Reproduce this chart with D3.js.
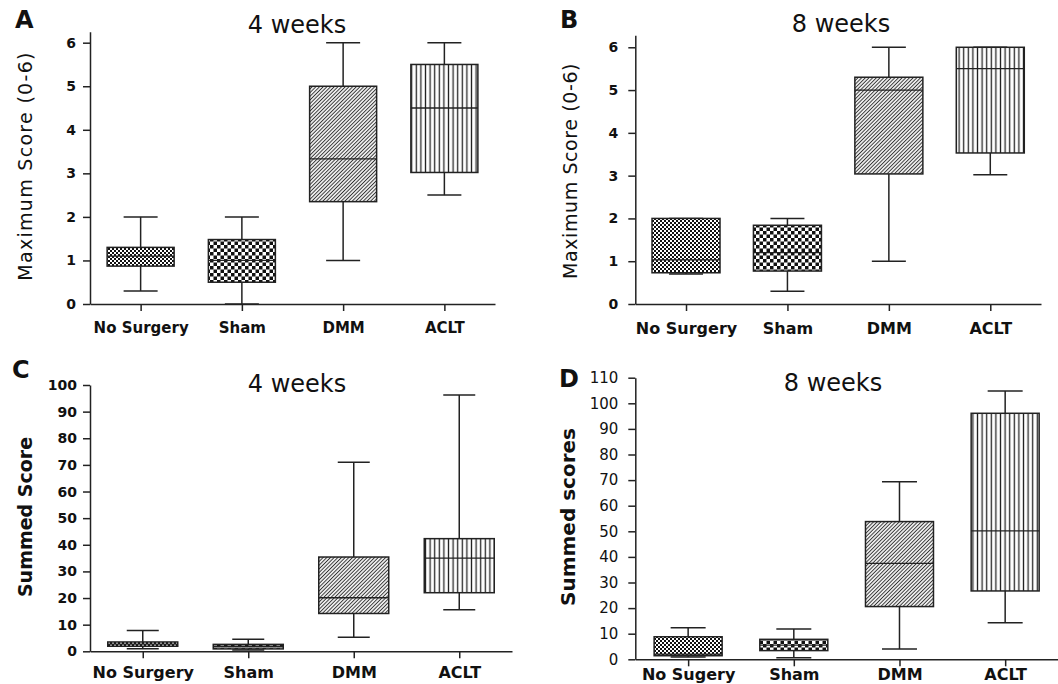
<!DOCTYPE html>
<html><head><meta charset="utf-8">
<script src="https://cdn.jsdelivr.net/npm/d3@7"></script>
<style>body{margin:0;background:#fff}svg{display:block}</style></head>
<body>
<svg id="c" width="1058" height="684"></svg>
<script>
// ---------- DATA ----------
const categories = ["No Surgery", "Sham", "DMM", "ACLT"];
const categoriesD = ["No Sugery", "Sham", "DMM", "ACLT"];
const ticksMax = [0, 1, 2, 3, 4, 5, 6];
const ticksC = [0, 10, 20, 30, 40, 50, 60, 70, 80, 90, 100];
const ticksD = [0, 10, 20, 30, 40, 50, 60, 70, 80, 90, 100, 110];
const titles = ["4 weeks", "8 weeks", "4 weeks", "8 weeks"];
const panelLetters = ["A", "B", "C", "D"];
const yLabels = ["Maximum Score (0-6)", "Maximum Score (0-6)", "Summed Score", "Summed scores"];
// each row: [min, q1, median, q3, max]
const statsA = [[0.3, 0.87, 1.1, 1.3, 2], [0, 0.5, 1.0, 1.48, 2], [1, 2.35, 3.33, 5, 6], [2.5, 3.02, 4.5, 5.5, 6]];
const statsB = [[0.7, 0.73, 1.03, 2, 2], [0.3, 0.77, 1.2, 1.84, 2], [1, 3.04, 5, 5.3, 6], [3.02, 3.53, 5.5, 6, 6]];
const statsC = [[1, 1.9, 2.7, 3.5, 7.8], [0.5, 0.9, 1.9, 2.6, 4.5], [5.3, 14.2, 20.1, 35.4, 71], [15.6, 22, 35, 42.3, 96.2]];
const statsD = [[0.9, 1.4, 2, 8.8, 12.3], [0.6, 3.4, 5.5, 7.8, 11.8], [4, 20.6, 37.5, 53.8, 69.4], [14.3, 26.7, 50.2, 96.1, 104.8]];

// ---------- PATTERNS ----------
const svg = d3.select("#c");
const defs = svg.append("defs");
const INK = "#222";
function checker(id, s) {
  const p = defs.append("pattern").attr("id", id).attr("patternUnits", "userSpaceOnUse")
    .attr("width", 2 * s).attr("height", 2 * s);
  p.append("rect").attr("width", 2 * s).attr("height", 2 * s).attr("fill", "#fff");
  p.append("rect").attr("width", s).attr("height", s).attr("fill", "#111");
  p.append("rect").attr("x", s).attr("y", s).attr("width", s).attr("height", s).attr("fill", "#111");
}
checker("fine", 2);
checker("coarse", 3.5);
{
  const p = defs.append("pattern").attr("id", "diag").attr("patternUnits", "userSpaceOnUse")
    .attr("width", 2.6).attr("height", 10).attr("patternTransform", "rotate(45)");
  p.append("rect").attr("width", 2.6).attr("height", 10).attr("fill", "#fff");
  p.append("line").attr("x1", 1.3).attr("x2", 1.3).attr("y1", 0).attr("y2", 10)
    .attr("stroke", "#333").attr("stroke-width", 1.05);
}
{
  const p = defs.append("pattern").attr("id", "vert").attr("patternUnits", "userSpaceOnUse")
    .attr("width", 4.6).attr("height", 10);
  p.append("rect").attr("width", 4.6).attr("height", 10).attr("fill", "#fff");
  p.append("line").attr("x1", 2.3).attr("x2", 2.3).attr("y1", 0).attr("y2", 10)
    .attr("stroke", "#222").attr("stroke-width", 1.3);
}
const fills = ["url(#fine)", "url(#coarse)", "url(#diag)", "url(#vert)"];

// ---------- PANELS (layout) ----------
const panels = [
  { cats: categories, stats: statsA, ticks: ticksMax, yMax: 6.25, x0: 90, x1: 495, y0: 304, yTop: 31.8,
    boxW: 67, capW: 34, tickBold: true, tickSize: 14, tickPad: 7, xlabSize: 15, xlabY: 29,
    title: [297, 33], letter: [15, 28], ylab: [25, 166], ylabBold: false, ylabSize: 19, ylabSpacing: 1.3 },
  { cats: categories, stats: statsB, ticks: ticksMax, yMax: 6.28, x0: 635.3, x1: 1041, y0: 304, yTop: 35.3,
    boxW: 68, capW: 34, tickBold: true, tickSize: 14, tickPad: 10, xlabSize: 16, xlabY: 30,
    title: [841, 32], letter: [560, 28], ylab: [570, 171], ylabBold: false, ylabSize: 19, ylabSpacing: 0.6 },
  { cats: categories, stats: statsC, ticks: ticksC, yMax: 100, x0: 90, x1: 512, y0: 651.3, yTop: 385,
    boxW: 70, capW: 32, tickBold: true, tickSize: 14, tickPad: 6, xlabSize: 16, xlabY: 27,
    title: [297, 392], letter: [12, 378], ylab: [25, 517], ylabBold: true, ylabSize: 19, ylabSpacing: 0 },
  { cats: categoriesD, stats: statsD, ticks: ticksD, yMax: 110, x0: 635.3, x1: 1058, y0: 659.3, yTop: 377.7,
    boxW: 68, capW: 35, tickBold: false, tickSize: 15, tickPad: 10, xlabSize: 16, xlabY: 21,
    title: [833, 391], letter: [559, 387], ylab: [568, 517], ylabBold: true, ylabSize: 20, ylabSpacing: 0 }
];

panels.forEach((P, i) => {
  const g = svg.append("g");
  const x = d3.scalePoint().domain(P.cats).range([P.x0, P.x1]).padding(0.5);
  const y = d3.scaleLinear().domain([0, P.yMax]).range([P.y0, P.yTop]);

  const ya = g.append("g").attr("transform", `translate(${P.x0},0)`)
    .call(d3.axisLeft(y).tickValues(P.ticks).tickFormat(d3.format("d")).tickSize(7).tickSizeOuter(0).tickPadding(P.tickPad));
  const xa = g.append("g").attr("transform", `translate(0,${P.y0})`)
    .call(d3.axisBottom(x).tickSize(7).tickSizeOuter(0));
  [ya, xa].forEach(a => {
    a.select(".domain").attr("stroke", INK).attr("stroke-width", 1.5);
    a.selectAll(".tick line").attr("stroke", INK).attr("stroke-width", 1.5);
  });
  ya.selectAll(".tick text").attr("fill", "#111").style("font-family", "DejaVu Sans")
    .style("font-size", P.tickSize + "px").style("font-weight", P.tickBold ? "bold" : "normal");
  xa.selectAll(".tick text").attr("fill", "#111").attr("y", P.xlabY).attr("dy", null)
    .style("font-family", "DejaVu Sans").style("font-size", P.xlabSize + "px").style("font-weight", "bold");

  P.stats.forEach((s, k) => {
    const cx = x(P.cats[k]);
    const [mn, q1, md, q3, mx] = s;
    const bg = g.append("g").attr("stroke", INK).attr("stroke-width", 1.5);
    bg.append("line").attr("x1", cx).attr("x2", cx).attr("y1", y(mx)).attr("y2", y(q3));
    bg.append("line").attr("x1", cx).attr("x2", cx).attr("y1", y(q1)).attr("y2", y(mn));
    bg.append("line").attr("x1", cx - P.capW / 2).attr("x2", cx + P.capW / 2).attr("y1", y(mx)).attr("y2", y(mx));
    bg.append("line").attr("x1", cx - P.capW / 2).attr("x2", cx + P.capW / 2).attr("y1", y(mn)).attr("y2", y(mn));
    bg.append("rect").attr("x", cx - P.boxW / 2).attr("y", y(q3)).attr("width", P.boxW)
      .attr("height", y(q1) - y(q3)).attr("fill", fills[k]);
    bg.append("line").attr("x1", cx - P.boxW / 2).attr("x2", cx + P.boxW / 2).attr("y1", y(md)).attr("y2", y(md))
      .attr("stroke-width", 1.3);
  });

  g.append("text").attr("x", P.title[0]).attr("y", P.title[1]).attr("text-anchor", "middle")
    .style("font-family", "DejaVu Sans").style("font-size", "24px").attr("fill", "#111").text(titles[i]);
  g.append("text").attr("x", P.letter[0]).attr("y", P.letter[1])
    .style("font-family", "DejaVu Sans").style("font-size", "24px").style("font-weight", "bold")
    .attr("fill", "#111").text(panelLetters[i]);
  g.append("text").attr("transform", `translate(${P.ylab[0]},${P.ylab[1]}) rotate(-90)`)
    .attr("text-anchor", "middle").attr("dominant-baseline", "central")
    .style("font-family", "DejaVu Sans").style("font-size", P.ylabSize + "px")
    .style("font-weight", P.ylabBold ? "bold" : "normal").style("letter-spacing", P.ylabSpacing + "px")
    .attr("fill", "#111").text(yLabels[i]);
});
</script>
</body></html>
